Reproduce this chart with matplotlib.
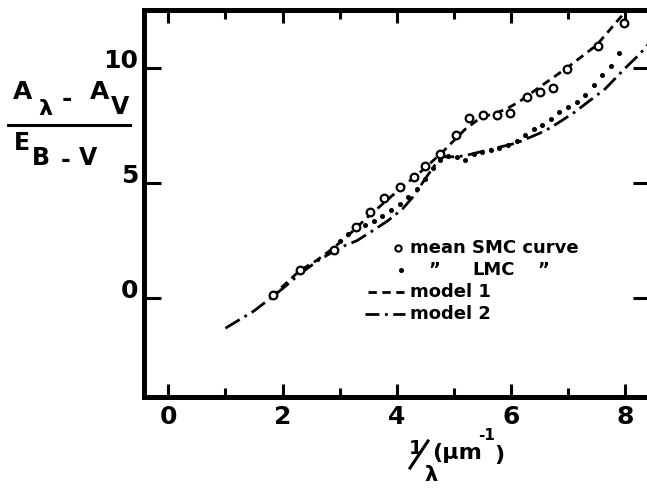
import matplotlib
matplotlib.use("Agg")
import matplotlib.pyplot as plt
from matplotlib.lines import Line2D
import numpy as np

W, H = 647, 493
plt.rcParams["font.weight"] = "bold"

# ---- data ----
smc_x = [1.83, 2.30, 2.91, 3.28, 3.53, 3.77, 4.05, 4.30, 4.50, 4.75, 5.04,
         5.27, 5.51, 5.75, 5.99, 6.28, 6.51, 6.74, 6.99, 7.52, 7.98]
smc_y = [0.14, 1.23, 2.10, 3.10, 3.77, 4.37, 4.85, 5.29, 5.76, 6.25, 7.08,
         7.83, 7.97, 7.98, 8.05, 8.75, 8.98, 9.15, 9.95, 10.97, 11.97]

lmc_x = [3.00, 3.15, 3.30, 3.45, 3.60, 3.75, 3.90, 4.05, 4.20, 4.35, 4.50,
         4.63, 4.75, 4.90, 5.05, 5.20, 5.35, 5.50, 5.65, 5.80, 5.95, 6.10,
         6.25, 6.40, 6.55, 6.70, 6.85, 7.00, 7.15, 7.30, 7.45, 7.60, 7.75, 7.90]
lmc_y = [2.50, 2.80, 3.00, 3.20, 3.38, 3.58, 3.85, 4.10, 4.40, 4.75, 5.20,
         5.65, 6.00, 6.20, 6.15, 6.00, 6.28, 6.35, 6.45, 6.55, 6.65, 6.85,
         7.10, 7.35, 7.55, 7.80, 8.10, 8.30, 8.55, 8.85, 9.25, 9.70, 10.10, 10.65]

m1_x = [1.80, 2.30, 2.60, 2.90, 3.20, 3.50, 3.80, 4.10, 4.40, 4.60, 4.80, 5.00,
        5.20, 5.40, 5.60, 5.90, 6.15, 6.40, 6.60, 7.00, 7.50, 7.95]
m1_y = [0.05, 1.20, 1.65, 2.20, 2.85, 3.55, 4.20, 4.85, 5.45, 5.90, 6.35, 6.85,
        7.35, 7.72, 7.95, 8.20, 8.55, 9.00, 9.35, 10.05, 11.00, 12.30]

m2_x = [1.00, 1.50, 1.83, 2.00, 2.30, 2.60, 3.00, 3.30, 3.60, 3.85, 4.10, 4.30,
        4.50, 4.70, 4.82, 5.00, 5.20, 5.60, 6.10, 6.50, 6.70, 7.10, 7.65, 8.00,
        8.25, 8.50]
m2_y = [-1.30, -0.55, 0.08, 0.42, 1.05, 1.60, 2.20, 2.50, 2.97, 3.38, 3.88, 4.45,
        5.20, 5.90, 6.15, 6.15, 6.20, 6.45, 6.75, 7.17, 7.42, 8.06, 9.10, 10.00,
        10.60, 11.30]

x_ticks = [0, 2, 4, 6, 8]
x_minor = [1, 3, 5, 7]
y_ticks = [0, 5, 10]

fig = plt.figure(figsize=(W / 100, H / 100), dpi=100)
L, R, T, B = 144, 650, 10, 397
ax = fig.add_axes([L / W, 1 - B / H, (R - L) / W, (B - T) / H])
ax.set_xlim(-0.426, 8.436)
ax.set_ylim(-4.29, 12.53)

lw = 2.0
ax.plot(m1_x, m1_y, color="black", lw=lw, linestyle=(0, (3.0, 2.0)))
ax.plot(m2_x, m2_y, color="black", lw=lw, linestyle=(0, (6.0, 2.0, 1.0, 2.0)))
ax.plot(lmc_x, lmc_y, linestyle="none", marker="o", ms=2.6, color="black")
ax.plot(smc_x, smc_y, linestyle="none", marker="o", ms=5.5, mfc="white",
        mec="black", mew=1.6)

for s in ax.spines.values():
    s.set_linewidth(3.6)

ax.set_xticks(x_ticks)
ax.set_xticks(x_minor, minor=True)
ax.set_yticks(y_ticks)
ax.tick_params(axis="both", which="both", direction="in", width=2.2,
               top=True, right=True, colors="black")
ax.tick_params(axis="x", which="major", length=9.5, pad=6)
ax.tick_params(axis="x", which="minor", length=6.5)
ax.tick_params(axis="y", which="major", length=12, pad=4)
ax.set_xticklabels([str(v) for v in x_ticks], fontsize=18, fontweight="bold")
ax.set_yticklabels([str(v) for v in y_ticks], fontsize=18, fontweight="bold")
for lab in ax.get_yticklabels():
    lab.set_verticalalignment("baseline")


def ft(x, y, s, size, **kw):
    fig.text(x / W, 1 - y / H, s, fontsize=size, ha="center", va="center",
             fontweight="bold", **kw)


def fl(xs, ys, **kw):
    fig.add_artist(Line2D([v / W for v in xs], [1 - v / H for v in ys],
                          transform=fig.transFigure, color="black", **kw))


# y-axis label (fraction)
ft(23, 92, "A", 18)
ft(45, 109, "λ", 16)
ft(67, 99, "-", 18)
ft(100, 92, "A", 18)
ft(120, 107, "V", 17)
fl([8, 130], [125, 125], lw=2.2)
ft(22, 143, "E", 17)
ft(41, 158, "B", 17)
ft(66, 160, "-", 17)
ft(88, 158, "V", 17)

# x-axis label
ft(416, 449, "1", 14)
fl([410, 428], [468, 441], lw=2.2)
ft(431, 475, "λ", 15)
ft(457, 453, "(µm", 16)
ft(487, 436, "-1", 11)
ft(499, 455, ")", 16)

# legend
fig.add_artist(Line2D([398 / W], [1 - 248 / H], transform=fig.transFigure,
                      marker="o", ms=4.5, mfc="white", mec="black", mew=1.5))
fig.add_artist(Line2D([401 / W], [1 - 270 / H], transform=fig.transFigure,
                      marker="o", ms=2.6, color="black"))
fl([368, 404], [292, 292], lw=2.0, linestyle=(0, (3.0, 2.0)))
fl([365, 405], [314, 314], lw=2.0, linestyle=(0, (5.0, 2.0, 1.0, 2.0)))
fs = 13
fig.text(410 / W, 1 - 248 / H, "mean SMC curve", fontsize=fs, va="center",
         fontweight="bold")
ft(434, 270, "\u201d", fs)
ft(494, 270, "LMC", fs)
ft(543, 270, "\u201d", fs)
fig.text(410 / W, 1 - 292 / H, "model 1", fontsize=fs, va="center",
         fontweight="bold")
fig.text(410 / W, 1 - 314 / H, "model 2", fontsize=fs, va="center",
         fontweight="bold")

fig.savefig("out.png", dpi=100)
